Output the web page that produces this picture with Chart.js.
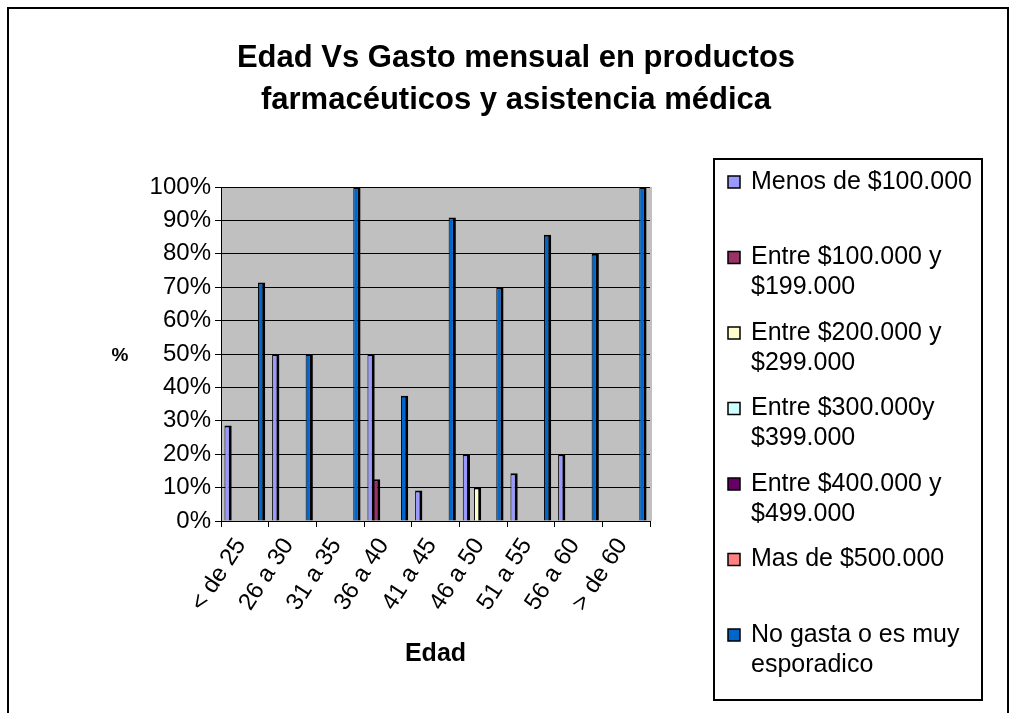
<!DOCTYPE html>
<html>
<head>
<meta charset="utf-8">
<title>Edad Vs Gasto mensual</title>
<script src="https://cdn.jsdelivr.net/npm/chart.js@4.4.1/dist/chart.umd.min.js"></script>
<style>
  html, body { margin: 0; padding: 0; background: #fff; }
</style>
</head>
<body>
<canvas id="chart" width="1014" height="713"></canvas>
<script>
// datos (% por tramo de edad)
const edades = ['< de 25', '26 a 30', '31 a 35', '36 a 40', '41 a 45', '46 a 50', '51 a 55', '56 a 60', '> de 60']

const menos100 = [28.6, 50, 0, 50, 9.1, 20, 14.3, 20, 0]
const entre100y199 = [0, 0, 0, 12.5, 0, 0, 0, 0, 0]
const entre200y299 = [0, 0, 0, 0, 0, 10, 0, 0, 0]
const entre300y399 = [0, 0, 0, 0, 0, 0, 0, 0, 0]
const entre400y499 = [0, 0, 0, 0, 0, 0, 0, 0, 0]
const mas500 = [0, 0, 0, 0, 0, 0, 0, 0, 0]
const noGasta = [71.4, 50, 100, 37.5, 90.9, 70, 85.7, 80, 100]

const series = [
  'Menos de $100.000',
  'Entre $100.000 y $199.000',
  'Entre $200.000 y $299.000',
  'Entre $300.000y $399.000',
  'Entre $400.000 y $499.000',
  'Mas de $500.000',
  'No gasta o es muy esporadico'
]
const yTicks = [0, 10, 20, 30, 40, 50, 60, 70, 80, 90, 100]

const titulo = ['Edad Vs Gasto mensual en productos', 'farmacéuticos y asistencia médica']
const tituloX = 'Edad'
const tituloY = '%'

const fuente = '"Liberation Sans", Arial, sans-serif'
const colores = ['#9999ff', '#993366', '#ffffcc', '#ccffff', '#660066', '#ff8080', '#0066cc']

function partirTexto(ctx, texto, ancho) {
  const palabras = texto.split(' ')
  const lineas = []
  let actual = ''
  palabras.forEach(p => {
    const prueba = actual ? actual + ' ' + p : p
    if (actual && ctx.measureText(prueba).width > ancho) {
      lineas.push(actual)
      actual = p
    } else {
      actual = prueba
    }
  })
  if (actual) lineas.push(actual)
  return lineas
}

const decoracion = {
  id: 'decoracion',
  beforeDraw(chart) {
    const {ctx, chartArea: a} = chart
    ctx.save()
    ctx.fillStyle = '#fff'
    ctx.fillRect(0, 0, chart.width, chart.height)
    ctx.fillStyle = '#c0c0c0'
    ctx.fillRect(a.left, a.top, a.right - a.left + 2, a.bottom - a.top)
    ctx.strokeStyle = '#000'
    ctx.lineWidth = 2
    ctx.strokeRect(8, 8, 1000, 730)
    ctx.restore()
  },
  afterDraw(chart) {
    const ctx = chart.ctx
    ctx.save()
    ctx.fillStyle = '#000'
    ctx.textAlign = 'center'
    ctx.textBaseline = 'middle'
    ctx.font = 'bold 31px ' + fuente
    titulo.forEach((t, i) => ctx.fillText(t, 516, 58 + i * 42))

    ctx.font = 'bold 19px ' + fuente
    ctx.fillText(tituloY, 120, 356)

    // leyenda
    ctx.lineWidth = 2
    ctx.strokeRect(714, 159, 268, 541)
    ctx.textAlign = 'left'
    ctx.font = '25px ' + fuente
    chart.data.datasets.forEach((ds, i) => {
      const y0 = 182 + i * 75.5
      ctx.fillStyle = ds.backgroundColor
      ctx.fillRect(728, y0 - 6, 12, 12)
      ctx.lineWidth = 1.5
      ctx.strokeStyle = '#000'
      ctx.strokeRect(728, y0 - 6, 12, 12)
      ctx.fillStyle = '#000'
      partirTexto(ctx, ds.label, 228).forEach((linea, k) => {
        ctx.fillText(linea, 751, y0 + k * 30)
      })
    })
    ctx.restore()
  }
}

const valores = [menos100, entre100y199, entre200y299, entre300y399, entre400y499, mas500, noGasta]

const chart = new Chart('chart', {
  type: 'bar',
  data: {
    labels: edades,
    datasets: valores.map((v, i) => ({
      label: series[i],
      data: v,
      backgroundColor: colores[i],
      borderColor: '#000000',
      borderWidth: {top: 2, right: 3, bottom: 0, left: 1},
      categoryPercentage: 0.82,
      barPercentage: 1.3
    }))
  },
  options: {
    responsive: false,
    animation: false,
    devicePixelRatio: 1,
    layout: {padding: {top: 187, right: 364, bottom: 0, left: 0}},
    plugins: {
      legend: {display: false},
      tooltip: {enabled: false},
      title: {display: false}
    },
    scales: {
      x: {
        grid: {display: true, drawOnChartArea: false, color: '#000', tickLength: 6, offset: true},
        border: {color: '#000', width: 1},
        ticks: {
          color: '#000',
          font: {family: fuente, size: 24},
          minRotation: 57,
          maxRotation: 57,
          autoSkip: false,
          padding: 6,
          labelOffset: -4
        },
        title: {
          display: true,
          text: tituloX,
          color: '#000',
          font: {family: fuente, size: 25, weight: 'bold'},
          padding: {top: 0, bottom: 44}
        },
        afterFit(scale) { scale.height = 192 }
      },
      y: {
        min: 0,
        max: 100,
        grid: {color: '#000', tickLength: 6},
        border: {color: '#000', width: 1},
        ticks: {
          color: '#000',
          font: {family: fuente, size: 24},
          padding: 4,
          callback: v => v + '%'
        },
        afterBuildTicks(scale) { scale.ticks = yTicks.map(v => ({value: v})) },
        afterFit(scale) { scale.width = 221 }
      }
    }
  },
  plugins: [decoracion]
})
</script>
</body>
</html>
